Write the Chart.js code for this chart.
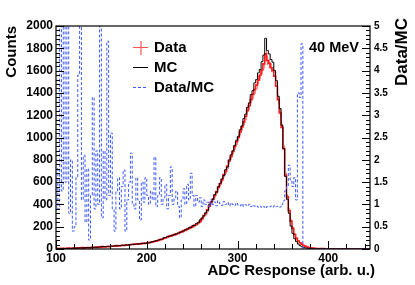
<!DOCTYPE html>
<html>
<head>
<meta charset="utf-8">
<script src="https://cdn.jsdelivr.net/npm/chart.js"></script>
<style>
  html, body { margin: 0; padding: 0; background: #fff; }
  canvas { display: block; }
</style>
</head>
<body>
<canvas id="adcChart" width="415" height="285"></canvas>
<script>
// bin centres of the ADC histogram (2 units per bin)
const binCenters = [
  101, 103, 105, 107, 109, 111, 113, 115, 117, 119,
  121, 123, 125, 127, 129, 131, 133, 135, 137, 139,
  141, 143, 145, 147, 149, 151, 153, 155, 157, 159,
  161, 163, 165, 167, 169, 171, 173, 175, 177, 179,
  181, 183, 185, 187, 189, 191, 193, 195, 197, 199,
  201, 203, 205, 207, 209, 211, 213, 215, 217, 219,
  221, 223, 225, 227, 229, 231, 233, 235, 237, 239,
  241, 243, 245, 247, 249, 251, 253, 255, 257, 259,
  261, 263, 265, 267, 269, 271, 273, 275, 277, 279,
  281, 283, 285, 287, 289, 291, 293, 295, 297, 299,
  301, 303, 305, 307, 309, 311, 313, 315, 317, 319,
  321, 323, 325, 327, 329, 331, 333, 335, 337, 339,
  341, 343, 345, 347, 349, 351, 353, 355, 357, 359,
  361, 363, 365, 367, 369, 371, 373, 375, 377, 379,
  381, 383, 385, 387, 389, 391, 393, 395, 397, 399,
  401, 403, 405, 407, 409, 411, 413, 415, 417, 419,
  421, 423, 425, 427, 429, 431, 433, 435, 437, 439,
  441, 443, 445
];

// Data (red, with errors)
const dataCounts = [
  6, 4, 3, 7, 5, 4, 8, 6, 5, 9,
  8, 7, 10, 9, 12, 8, 11, 13, 10, 14,
  16, 13, 18, 15, 17, 21, 18, 20, 23, 21,
  24, 27, 26, 30, 28, 29, 33, 31, 36, 34,
  38, 41, 40, 44, 43, 47, 45, 51, 49, 53,
  55, 58, 60, 65, 69, 73, 78, 84, 87, 96,
  101, 108, 116, 118, 126, 129, 137, 141, 152, 155,
  166, 170, 181, 186, 196, 203, 215, 222, 236, 248,
  272, 300, 318, 352, 384, 418, 446, 482, 515, 552,
  585, 622, 668, 700, 745, 790, 830, 875, 920, 962,
  1000, 1050, 1095, 1140, 1190, 1240, 1285, 1340, 1385, 1430,
  1470, 1515, 1560, 1605, 1660, 1750, 1690, 1665, 1625, 1600,
  1550, 1460, 1340, 1220, 1090, 900, 660, 470, 345, 250,
  185, 130, 95, 72, 56, 42, 32, 24, 18, 13,
  10, 8, 6, 5, 4, 4, 3, 3, 2, 2,
  2, 1, 2, 1, 1, 1, 0, 1, 1, 0,
  1, 0, 1, 0, 0, 1, 0, 0, 1, 0,
  0, 1, 0
];

// MC (black)
const mcCounts = [
  4, 3, 5, 4, 6, 5, 4, 7, 6, 8,
  7, 9, 8, 10, 9, 12, 11, 13, 12, 15,
  14, 17, 15, 18, 20, 19, 22, 20, 24, 23,
  26, 25, 29, 27, 31, 30, 34, 32, 37, 35,
  40, 38, 43, 41, 46, 44, 49, 47, 52, 50,
  57, 55, 63, 66, 71, 75, 80, 86, 89, 101,
  103, 112, 113, 122, 124, 133, 134, 144, 148, 160,
  162, 176, 178, 192, 194, 210, 212, 229, 236, 262,
  278, 298, 326, 345, 398, 422, 448, 488, 510, 560,
  590, 628, 660, 712, 735, 800, 845, 880, 930, 975,
  1010, 1070, 1105, 1170, 1210, 1270, 1310, 1385, 1420, 1490,
  1520, 1580, 1610, 1680, 1740, 1890, 1780, 1750, 1700, 1675,
  1600, 1510, 1370, 1260, 1110, 900, 650, 445, 320, 205,
  140, 92, 66, 44, 30, 20, 14, 10, 7, 5,
  4, 3, 2, 2, 1, 1, 0, 1, 0, 0,
  0, 0, 0, 0, 0, 0, 0, 0, 0, 0,
  0, 0, 0, 0, 0, 0, 0, 0, 0, 0,
  0, 0, 0
];

// Data/MC (blue dashed, right axis) - values above 5 run off the top
const ratioValues = [
  1.8, 0.9, 6, 1.3, 6, 1.5, 6, 0.8, 2.0, 0.4,
  0.5, 1.6, 3.9, 6, 1.1, 2.1, 0.6, 1.8, 0.2, 1.2,
  3.4, 0.9, 2.2, 1.0, 6, 0.7, 2.2, 1.1, 4.66, 1.2,
  2.6, 0.9, 0.4, 1.3, 1.6, 0.9, 1.4, 1.77, 0.4, 1.1,
  1.5, 2.15, 1.0, 0.9, 1.6, 1.1, 0.65, 1.5, 1.05, 1.6,
  1.2, 1.0, 1.3, 1.1, 2.06, 0.95, 1.2, 1.6, 1.0, 1.15,
  1.45, 0.9, 1.2, 1.84, 1.0, 1.15, 1.3, 0.95, 0.7, 1.1,
  1.35, 1.0, 1.45, 1.1, 1.7, 1.2, 0.95, 1.2, 1.05, 1.15,
  0.95, 1.1, 1.0, 1.05, 0.95, 1.1, 1.0, 1.05, 0.97, 1.08,
  1.02, 0.98, 1.06, 1.0, 1.04, 0.97, 1.03, 1.0, 0.98, 1.03,
  0.99, 0.97, 1.01, 0.96, 0.99, 0.97, 1.0, 0.95, 0.98, 0.96,
  0.97, 0.94, 0.96, 0.93, 0.95, 0.92, 0.95, 0.94, 0.96, 0.94,
  0.97, 0.95, 0.96, 0.94, 1.0, 1.08, 1.3, 1.4, 1.88, 1.55,
  1.4, 1.6, 1.1, 3.5, 3.4, 4.6, 0, 0, 0, 0,
  0, 0, 0, 0, 0, 0, 0, 0, 0, 0,
  0, 0, 0, 0, 0, 0, 0, 0, 0, 0,
  0, 0, 0, 0, 0, 0, 0, 0, 0, 0,
  0, 0, 0
];

const xTickLabels = [100, 200, 300, 400];
const countTickLabels = [0, 200, 400, 600, 800, 1000, 1200, 1400, 1600, 1800, 2000];
const ratioTickLabels = [0, 0.5, 1, 1.5, 2, 2.5, 3, 3.5, 4, 4.5, 5];
const legendLabels = ['Data', 'MC', 'Data/MC'];
const energyLabel = '40 MeV';
const xTitle = 'ADC Response (arb. u.)';
const yTitle = 'Counts';
const y2Title = 'Data/MC';

const FONT = '"Liberation Sans", Arial, Helvetica, sans-serif';
const RED = 'rgb(255,25,25)';
const BLUE = 'rgb(60,90,255)';

function toPoints(values) {
  return binCenters.map((c, i) => ({ x: c, y: values[i] }));
}

// ROOT-like frame, inward ticks, legend and titles
const rootStyle = {
  id: 'rootStyle',
  beforeDatasetsDraw(chart) {
    // error bars of the data points
    const { ctx, chartArea: a } = chart;
    const x = chart.scales.x, y = chart.scales.y;
    ctx.save();
    ctx.beginPath();
    ctx.rect(a.left, a.top, a.right - a.left, a.bottom - a.top);
    ctx.clip();
    ctx.strokeStyle = 'rgba(255,50,50,0.6)';
    ctx.lineWidth = 1;
    ctx.beginPath();
    binCenters.forEach((c, i) => {
      const n = dataCounts[i];
      if (n <= 0) return;
      const e = Math.sqrt(n);
      const px = Math.round(x.getPixelForValue(c)) + 0.5;
      ctx.moveTo(px, y.getPixelForValue(n - e));
      ctx.lineTo(px, y.getPixelForValue(n + e));
    });
    ctx.stroke();
    ctx.restore();
  },
  afterDatasetsDraw(chart) {
    const { ctx, chartArea: a } = chart;
    const x = chart.scales.x, y = chart.scales.y, y2 = chart.scales.y2;
    ctx.save();

    // frame
    ctx.strokeStyle = '#000';
    ctx.lineWidth = 1.2;
    ctx.strokeRect(a.left, a.top, a.right - a.left, a.bottom - a.top);

    // ticks pointing inside
    ctx.lineWidth = 1;
    ctx.beginPath();
    for (let v = 0; v <= 2000; v += 40) {
      const py = Math.round(y.getPixelForValue(v)) + 0.5;
      ctx.moveTo(a.left, py);
      ctx.lineTo(a.left + (v % 200 === 0 ? 8 : 4), py);
    }
    for (let k = 0; k <= 50; k++) {
      const py = Math.round(y2.getPixelForValue(k / 10)) + 0.5;
      ctx.moveTo(a.right, py);
      ctx.lineTo(a.right - (k % 5 === 0 ? 8 : 4), py);
    }
    for (let v = 100; v <= 440; v += 20) {
      const px = Math.round(x.getPixelForValue(v)) + 0.5;
      ctx.moveTo(px, a.bottom);
      ctx.lineTo(px, a.bottom - (v % 100 === 0 ? 8 : 5));
    }
    ctx.stroke();

    // legend
    const lx0 = 133, lx1 = 148;
    ctx.strokeStyle = 'rgba(255,40,40,0.8)';
    ctx.lineWidth = 1.2;
    ctx.beginPath();
    ctx.moveTo(lx0, 47.5); ctx.lineTo(lx1, 47.5);
    ctx.moveTo(141, 41); ctx.lineTo(141, 55);
    ctx.stroke();
    ctx.strokeStyle = '#000';
    ctx.lineWidth = 1;
    ctx.beginPath();
    ctx.moveTo(lx0, 67.5); ctx.lineTo(lx1, 67.5);
    ctx.stroke();
    ctx.strokeStyle = BLUE;
    ctx.setLineDash([3, 2]);
    ctx.beginPath();
    ctx.moveTo(lx0, 87.5); ctx.lineTo(lx1, 87.5);
    ctx.stroke();
    ctx.setLineDash([]);

    ctx.fillStyle = '#000';
    ctx.textBaseline = 'middle';
    ctx.textAlign = 'left';
    ctx.font = 'bold 15px ' + FONT;
    ctx.fillText(legendLabels[0], 154, 48);
    ctx.fillText(legendLabels[1], 154, 68);
    ctx.fillText(legendLabels[2], 154, 88);

    ctx.font = 'bold 14.5px ' + FONT;
    ctx.fillText(energyLabel, 309, 48);

    // axis titles
    ctx.font = 'bold 15px ' + FONT;
    ctx.textAlign = 'right';
    ctx.fillText(xTitle, 375, 271);

    ctx.save();
    ctx.translate(12, a.top);
    ctx.rotate(-Math.PI / 2);
    ctx.textAlign = 'right';
    ctx.fillText(yTitle, 0, 0);
    ctx.restore();

    ctx.save();
    ctx.font = 'bold 17px ' + FONT;
    ctx.translate(402.5, 86);
    ctx.rotate(-Math.PI / 2);
    ctx.textAlign = 'left';
    ctx.fillText(y2Title, 0, 0);
    ctx.restore();

    ctx.restore();
  }
};

new Chart(document.getElementById('adcChart'), {
  type: 'line',
  data: {
    datasets: [
      {
        label: legendLabels[0],
        data: toPoints(dataCounts),
        yAxisID: 'y',
        borderColor: RED,
        borderWidth: 1.6,
        stepped: 'middle',
        pointRadius: 0,
        order: 3
      },
      {
        label: legendLabels[1],
        data: toPoints(mcCounts),
        yAxisID: 'y',
        borderColor: '#000',
        borderWidth: 1,
        stepped: 'middle',
        pointRadius: 0,
        order: 2
      },
      {
        label: legendLabels[2],
        data: toPoints(ratioValues),
        yAxisID: 'y2',
        borderColor: BLUE,
        borderWidth: 1,
        borderDash: [3, 2],
        stepped: 'middle',
        pointRadius: 0,
        clip: 0,
        order: 1
      }
    ]
  },
  options: {
    responsive: false,
    animation: false,
    devicePixelRatio: 1,
    events: [],
    layout: { padding: { top: 26, left: 0, right: 0, bottom: 0 } },
    plugins: {
      legend: { display: false },
      tooltip: { enabled: false }
    },
    scales: {
      x: {
        type: 'linear',
        min: 100,
        max: 446,
        grid: { display: false, drawTicks: false },
        border: { display: false },
        afterFit: function(scale) { scale.height = 36; },
        ticks: {
          stepSize: 100,
          includeBounds: false,
          autoSkip: false,
          maxRotation: 0,
          padding: 2,
          color: '#000',
          font: { family: FONT, size: 12, weight: 'bold' },
          callback: function(value) {
            return xTickLabels.includes(value) ? String(value) : '';
          }
        }
      },
      y: {
        position: 'left',
        min: 0,
        max: 2000,
        grid: { display: false, drawTicks: false },
        border: { display: false },
        afterFit: function(scale) { scale.width = 56; },
        ticks: {
          stepSize: 200,
          autoSkip: false,
          padding: 3,
          color: '#000',
          font: { family: FONT, size: 12, weight: 'bold' },
          callback: function(value) {
            return countTickLabels.includes(value) ? String(value) : '';
          }
        }
      },
      y2: {
        position: 'right',
        min: 0,
        max: 5,
        grid: { display: false, drawTicks: false },
        border: { display: false },
        afterFit: function(scale) { scale.width = 45; },
        ticks: {
          stepSize: 0.5,
          autoSkip: false,
          padding: 4,
          color: '#000',
          font: { family: FONT, size: 10, weight: 'bold' },
          callback: function(value) {
            return ratioTickLabels.includes(value) ? String(value) : '';
          }
        }
      }
    }
  },
  plugins: [rootStyle]
});
</script>
</body>
</html>
